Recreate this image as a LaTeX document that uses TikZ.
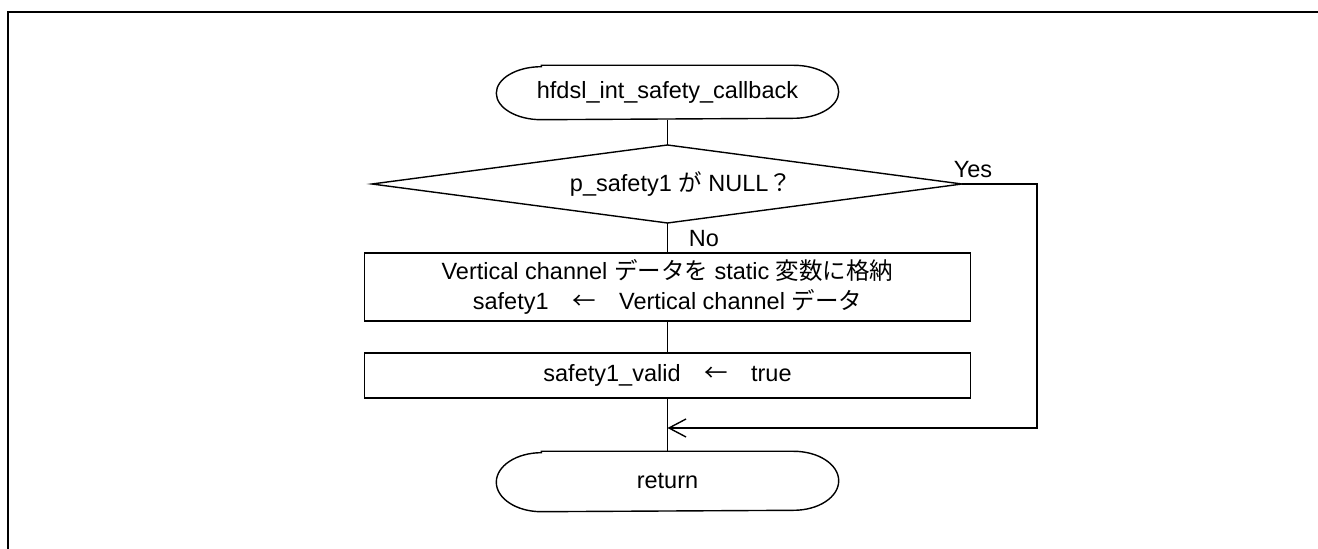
\documentclass[tikz,border=0pt]{standalone}
\usepackage{fontspec}
\setmainfont{Liberation Sans}
\newfontfamily\jp{Noto Sans CJK JP}
\usetikzlibrary{arrows.meta,calc}
\newcommand\termpath[3]{% node name, x radius, y radius
  \draw ($(#1.north west)+(#2,0)$) -- ($(#1.north east)+(-#2,0)$)
    arc[start angle=90,end angle=-90,x radius=#2,y radius=#3]
    -- ($(#1.south west)+(#2,0)$)
    arc[start angle=270,end angle=90,x radius=#2,y radius=#3] -- cycle;}
\begin{document}
\begin{tikzpicture}[x=1pt,y=1pt,
  line width=1.4pt,
  every node/.style={font=\fontsize{23.5}{30}\selectfont},
  term/.style={minimum width=341pt, inner sep=0pt},
  box/.style={draw, minimum width=606pt, inner sep=0pt, align=center},
  lbl/.style={inner sep=0pt},
  arr/.style={-{Straight Barb[length=17pt,width=18pt,line width=1.4pt]}}
]
\useasboundingbox (0,0) rectangle (1318,549);
\draw[line width=2.5pt] (8,-2) -- (8,537) -- (1322,537);

% start terminal
\node[term, minimum height=53pt] (start) at (667.5,456.5) {hfdsl\_int\_safety\_callback};
\termpath{start}{45}{26.5}

% decision
\coordinate (dl) at (372,365);
\coordinate (dr) at (962,365);
\coordinate (dt) at (667.5,404);
\coordinate (db) at (667.5,326);
\draw (dl) -- (dt) -- (dr) -- (db) -- cycle;
\node[lbl] (dec) at (681,365) {p\_safety1 {\jp が} NULL{\jp ？}};

% process boxes
\node[box, minimum height=68pt] (b1) at (667.5,262)
  {Vertical channel {\jp データを} static {\jp 変数に格納}\\
   safety1{\jp 　←　}Vertical channel {\jp データ}};
\node[box, minimum height=45pt] (b2) at (667.5,173.5)
  {safety1\_valid{\jp 　←　}true};

% return terminal
\node[term, minimum height=59pt] (ret) at (667.5,67.5) {return};
\termpath{ret}{45}{29.5}

% connectors
\coordinate (merge) at (667.5,121);
\coordinate (yr) at (1037,365);
\draw (start.south) -- (dt);
\draw (db) -- (b1.north);
\draw (b1.south) -- (b2.north);
\draw (b2.south) -- (ret.north);
\draw[arr] (dr) -- (yr) |- (merge);

% labels
\node[lbl] (yes) at (973,379) {Yes};
\node[lbl] (no) at (704,310) {No};
\end{tikzpicture}
\end{document}
